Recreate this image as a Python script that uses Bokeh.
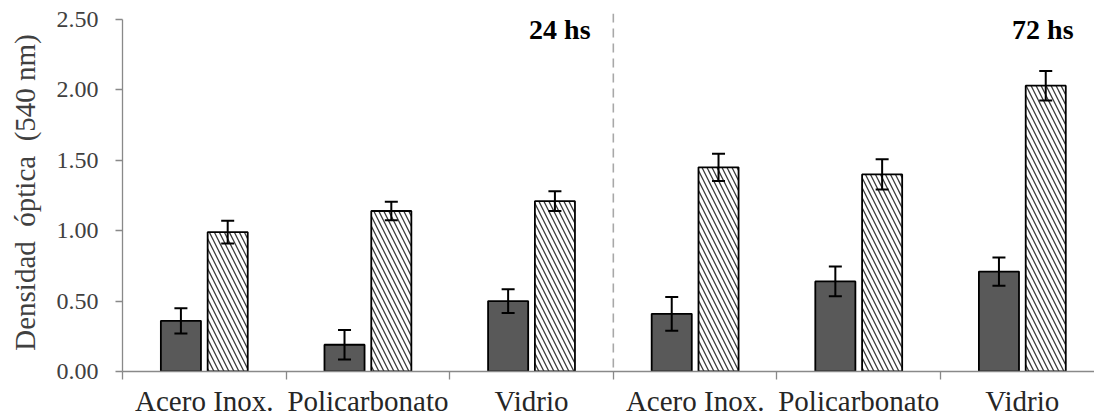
from bokeh.plotting import figure
from bokeh.models import (ColumnDataSource, Range1d, FixedTicker, Whisker, TeeHead,
                          Span, Label, NumeralTickFormatter)
from bokeh.embed import file_html
from bokeh.resources import INLINE

# ---- data ----
materials = ["Acero Inox.", "Policarbonato", "Vidrio", "Acero Inox.", "Policarbonato", "Vidrio"]
times = ["24 hs", "72 hs"]
dark_vals = [0.36, 0.19, 0.50, 0.41, 0.64, 0.71]
dark_err = [0.09, 0.105, 0.085, 0.12, 0.105, 0.10]
hatch_vals = [0.99, 1.14, 1.21, 1.45, 1.40, 2.03]
hatch_err = [0.08, 0.065, 0.07, 0.097, 0.107, 0.105]
y_ticks = [0.0, 0.5, 1.0, 1.5, 2.0, 2.5]

FONT = "Liberation Serif"
n = len(materials)
centers = [i + 0.5 for i in range(n)]
bar_w = 0.245
off = 0.143

src_d = ColumnDataSource(dict(
    x=[c - off for c in centers], top=dark_vals,
    upper=[v + e for v, e in zip(dark_vals, dark_err)],
    lower=[v - e for v, e in zip(dark_vals, dark_err)]))
src_h = ColumnDataSource(dict(
    x=[c + off for c in centers], top=hatch_vals,
    upper=[v + e for v, e in zip(hatch_vals, hatch_err)],
    lower=[v - e for v, e in zip(hatch_vals, hatch_err)]))

p = figure(width=1094, height=419, output_backend="svg", toolbar_location=None,
           x_range=Range1d(0, 5.941), y_range=Range1d(0, 2.543),
           min_border_left=122, min_border_right=0, min_border_top=13, min_border_bottom=48)
p.outline_line_color = None
p.grid.visible = False
p.background_fill_color = "white"

p.vbar(x="x", top="top", width=bar_w, source=src_d, fill_color="#595959",
       line_color="black", line_width=1.8)
p.vbar(x="x", top="top", width=bar_w, source=src_h, fill_color="white",
       hatch_pattern="\\", hatch_color="#3a3a3a", hatch_weight=1.3, hatch_scale=10,
       line_color="black", line_width=1.8)

for s in (src_d, src_h):
    w = Whisker(source=s, base="x", upper="upper", lower="lower", level="overlay",
                line_color="black", line_width=2,
                upper_head=TeeHead(size=13, line_color="black", line_width=2),
                lower_head=TeeHead(size=13, line_color="black", line_width=2))
    p.add_layout(w)

p.add_layout(Span(location=3, dimension="height", line_color="#a8a8a8",
                  line_dash="9 6", line_width=1.6))

# x axis
xa = p.xaxis[0]
xa.ticker = FixedTicker(ticks=centers, minor_ticks=[float(i) for i in range(n + 1)])
xa.major_label_overrides = {c: m for c, m in zip(centers, materials)}
xa.major_tick_out = 0
xa.major_tick_in = 0
xa.minor_tick_out = 8
xa.minor_tick_in = 0
xa.minor_tick_line_color = "#898989"
xa.minor_tick_line_width = 1.3
xa.axis_line_color = "#898989"
xa.axis_line_width = 1.3
xa.major_label_text_font = FONT
xa.major_label_text_font_size = "29px"
xa.major_label_text_color = "#262626"
xa.major_label_standoff = 5

# y axis
ya = p.yaxis[0]
ya.ticker = FixedTicker(ticks=y_ticks)
ya.formatter = NumeralTickFormatter(format="0.00")
ya.bounds = (0, 2.5)
ya.minor_tick_line_color = None
ya.major_tick_out = 7
ya.major_tick_in = 0
ya.major_tick_line_color = "#898989"
ya.major_tick_line_width = 1.3
ya.axis_line_color = "#898989"
ya.axis_line_width = 1.3
ya.major_label_text_font = FONT
ya.major_label_text_font_size = "24px"
ya.major_label_text_color = "#404040"
ya.major_label_standoff = 17
ya.axis_label = "Densidad\u00a0\u00a0óptica\u00a0\u00a0(540\u00a0nm)"
ya.axis_label_text_font = FONT
ya.axis_label_text_font_style = "normal"
ya.axis_label_text_font_size = "29px"
ya.axis_label_text_color = "#404040"
ya.axis_label_standoff = 13

for t, xpos in zip(times, [2.861, 5.813]):
    p.add_layout(Label(x=xpos, y=2.43, text=t, text_font=FONT, text_font_size="28px",
                       text_font_style="bold", text_align="right",
                       text_baseline="alphabetic", text_color="black"))

open("out.html", "w").write(file_html(p, INLINE))
